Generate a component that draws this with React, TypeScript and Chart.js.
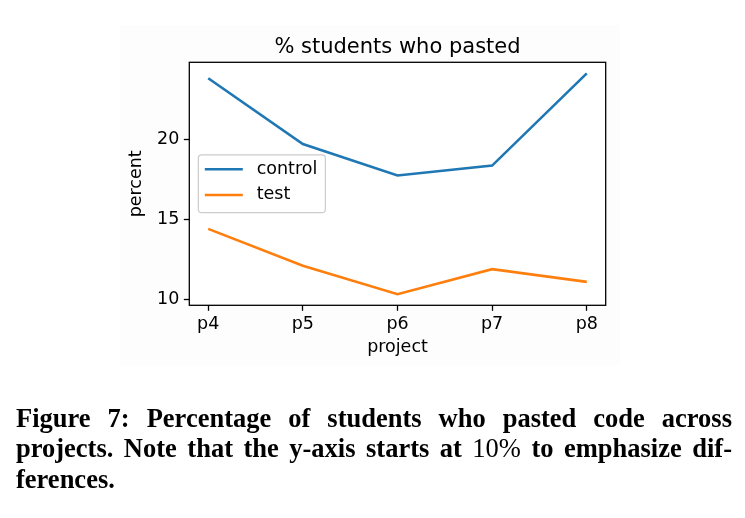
import React, { useEffect, useLayoutEffect, useRef } from 'react';
import Chart from 'chart.js/auto';

// values
const projects = ['p4', 'p5', 'p6', 'p7', 'p8'];
const controlPct = [23.8, 19.7, 17.74, 18.36, 24.1];
const testPct = [14.42, 12.12, 10.35, 11.91, 11.12];
const yTicks = [10, 15, 20];

const FONT = "'DejaVu Sans', sans-serif";
const TICK_SIZE = 17.5;

// faint figure background + white axes face
const background = {
  id: 'background',
  beforeDraw(chart: any) {
    const { ctx, chartArea } = chart;
    ctx.save();
    ctx.fillStyle = '#fdfdfd';
    ctx.fillRect(120, 25, 500, 341);
    ctx.fillStyle = '#ffffff';
    ctx.fillRect(chartArea.left, chartArea.top, chartArea.right - chartArea.left, chartArea.bottom - chartArea.top);
    ctx.restore();
  },
};

// four spines around the axes like matplotlib
const frame = {
  id: 'frame',
  afterDatasetsDraw(chart: any) {
    const { ctx, chartArea } = chart;
    ctx.save();
    ctx.strokeStyle = '#000';
    ctx.lineWidth = 1.3;
    ctx.strokeRect(chartArea.left, chartArea.top, chartArea.right - chartArea.left, chartArea.bottom - chartArea.top);
    ctx.restore();
  },
};

// legend sitting inside the plot, center left
const insideLegend = {
  id: 'insideLegend',
  afterDatasetsDraw(chart: any) {
    const { ctx, chartArea } = chart;
    const sets = chart.data.datasets;
    ctx.save();
    ctx.font = `${TICK_SIZE}px ${FONT}`;
    const rowH = 25.7;
    const textW = Math.max(...sets.map((d: any) => ctx.measureText(d.label).width));
    const w = 58.4 + textW + 8;
    const h = 14.3 + (sets.length - 1) * rowH + 17.7;
    const x = chartArea.left + 9;
    const y = (chartArea.top + chartArea.bottom) / 2 - h / 2;
    ctx.beginPath();
    ctx.roundRect(x, y, w, h, 3.5);
    ctx.fillStyle = 'rgba(255,255,255,0.8)';
    ctx.fill();
    ctx.strokeStyle = '#cccccc';
    ctx.lineWidth = 1.2;
    ctx.stroke();
    sets.forEach((d: any, i: number) => {
      const cy = y + 14.3 + i * rowH;
      ctx.beginPath();
      ctx.moveTo(x + 6.5, cy);
      ctx.lineTo(x + 44.5, cy);
      ctx.strokeStyle = d.borderColor;
      ctx.lineWidth = 2.6;
      ctx.stroke();
      ctx.fillStyle = '#000';
      ctx.textBaseline = 'middle';
      ctx.textAlign = 'left';
      ctx.fillText(d.label, x + 58.4, cy);
    });
    ctx.restore();
  },
};

const captionLines = [
  [{ t: 'Figure 7: Percentage of students who pasted code across' }],
  [{ t: 'projects. Note that the y-axis starts at ' }, { t: '10%', light: true }, { t: ' to emphasize dif-' }],
  [{ t: 'ferences.' }],
];
const CAPTION_W = 716;

const Caption: React.FC = () => {
  const refs = useRef<(HTMLSpanElement | null)[]>([]);

  useLayoutEffect(() => {
    refs.current.forEach((el, i) => {
      if (!el) return;
      el.style.wordSpacing = '0px';
      el.style.transform = 'none';
      const w = el.getBoundingClientRect().width;
      if (i === captionLines.length - 1) return;
      if (w > CAPTION_W) {
        el.style.transform = `scaleX(${CAPTION_W / w})`;
      } else {
        const spaces = (el.textContent || '').split(' ').length - 1;
        if (spaces > 0) el.style.wordSpacing = `${(CAPTION_W - w) / spaces}px`;
      }
    });
  }, []);

  return (
    <div
      style={{
        position: 'absolute',
        left: 16,
        top: 402.5,
        fontFamily: "'Liberation Serif', serif",
        fontWeight: 700,
        fontSize: 26.5,
        lineHeight: '30.5px',
        color: '#000',
      }}
    >
      {captionLines.map((line, i) => (
        <div key={i} style={{ whiteSpace: 'nowrap' }}>
          <span
            ref={el => { refs.current[i] = el; }}
            style={{ display: 'inline-block', transformOrigin: 'left center' }}
          >
            {line.map((p: any, j) => (
              <span key={j} style={p.light ? { fontWeight: 400 } : undefined}>{p.t}</span>
            ))}
          </span>
        </div>
      ))}
    </div>
  );
};

const App: React.FC = () => {
  const canvasRef = useRef<HTMLCanvasElement>(null);

  useEffect(() => {
    if (!canvasRef.current) return;
    const chart = new Chart(canvasRef.current, {
      type: 'line',
      data: {
        datasets: [
          {
            label: 'control',
            data: projects.map((_, i) => ({ x: i, y: controlPct[i] })),
            borderColor: '#1f77b4',
            backgroundColor: '#1f77b4',
            borderWidth: 2.6,
            pointRadius: 0,
            tension: 0,
          },
          {
            label: 'test',
            data: projects.map((_, i) => ({ x: i, y: testPct[i] })),
            borderColor: '#ff7f0e',
            backgroundColor: '#ff7f0e',
            borderWidth: 2.6,
            pointRadius: 0,
            tension: 0,
          },
        ],
      },
      options: {
        animation: false,
        responsive: true,
        maintainAspectRatio: false,
        layout: { padding: { left: 120, right: 139.3, top: 25, bottom: 153 } },
        plugins: {
          legend: { display: false },
          tooltip: { enabled: false },
          title: {
            display: true,
            text: '% students who pasted',
            color: '#000',
            fullSize: false,
            font: { family: FONT, size: 21, weight: 'normal' },
            padding: { top: 9.5, bottom: 2.6 },
          },
        },
        scales: {
          x: {
            type: 'linear',
            min: -0.2,
            max: 4.2,
            afterBuildTicks: (scale: any) => {
              scale.ticks = projects.map((_, i) => ({ value: i }));
            },
            afterFit: (scale: any) => {
              scale.height = 59.7;
            },
            ticks: {
              color: '#000',
              font: { family: FONT, size: TICK_SIZE },
              padding: 2.7,
              maxRotation: 0,
              callback: (v: any) => projects[v],
            },
            grid: { drawOnChartArea: false, drawTicks: true, tickLength: 5.5, tickColor: '#000', tickWidth: 1.3 },
            border: { display: false },
            title: {
              display: true,
              text: 'project',
              color: '#000',
              font: { family: FONT, size: TICK_SIZE },
              padding: { top: 0, bottom: 7.3 },
            },
          },
          y: {
            type: 'linear',
            min: 9.66,
            max: 24.79,
            afterBuildTicks: (scale: any) => {
              scale.ticks = yTicks.map(v => ({ value: v }));
            },
            afterFit: (scale: any) => {
              scale.width = 69.3;
            },
            ticks: {
              color: '#000',
              font: { family: FONT, size: TICK_SIZE },
              padding: 4.5,
            },
            grid: { drawOnChartArea: false, drawTicks: true, tickLength: 5.5, tickColor: '#000', tickWidth: 1.3 },
            border: { display: false },
            title: {
              display: true,
              text: 'percent',
              color: '#000',
              font: { family: FONT, size: TICK_SIZE },
              padding: { top: 6.2, bottom: 0 },
            },
          },
        },
      },
      plugins: [background, frame, insideLegend],
    });
    return () => chart.destroy();
  }, []);

  return (
    <div style={{ position: 'fixed', left: 0, top: 0, width: 745, height: 518, background: '#fff' }}>
      <canvas ref={canvasRef}></canvas>
      <Caption />
    </div>
  );
};

export default App;
